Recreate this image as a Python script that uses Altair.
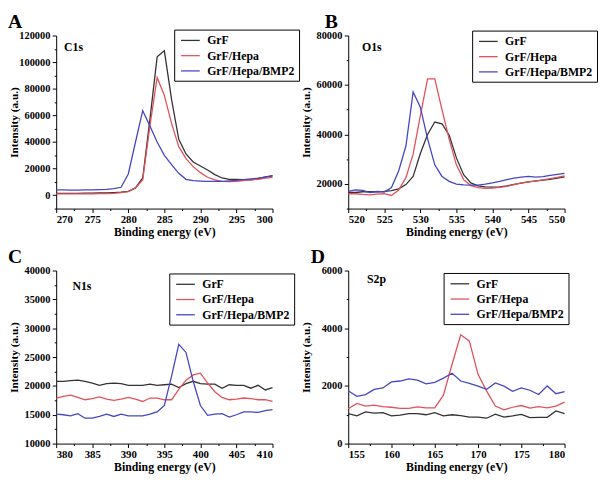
import altair as alt
import pandas as pd

SERIF = "Liberation Serif, Times New Roman, DejaVu Serif, serif"
SAMPLES = ["GrF", "GrF/Hepa", "GrF/Hepa/BMP2"]
COLORS = ["#333333", "#e2525c", "#4646c4"]

# ---------------- Panel A : C1s ----------------
C1S_ENERGY = list(range(270, 301))
C1S_GRF = [1500, 1500, 1500, 1500, 1600, 1600, 1700, 1800, 2000, 2300, 3000,
           5500, 13000, 57000, 104000, 108500, 72000, 42000, 31000, 25000, 22000,
           19000, 15500, 13000, 12000, 12000, 11800, 11500, 12500, 13800, 14500]
C1S_HEPA = [1000, 1000, 1000, 1000, 1100, 1100, 1200, 1300, 1500, 2000, 2800,
            5500, 11500, 52000, 88500, 75000, 54000, 36500, 27500, 21500, 17000,
            13500, 11500, 10500, 10300, 10500, 11000, 11500, 12000, 12800, 13500]
C1S_BMP2 = [4000, 4000, 3800, 3800, 4000, 4000, 4200, 4500, 5000, 6000, 16000,
            40000, 63500, 52000, 40000, 30000, 23000, 16500, 12000, 11000, 10700,
            10500, 10500, 10500, 10800, 11200, 11800, 12300, 12800, 13600, 14800]
C1S_XTICKS = [270, 275, 280, 285, 290, 295, 300]
C1S_YTICKS = [0, 20000, 40000, 60000, 80000, 100000, 120000]

# ---------------- Panel B : O1s ----------------
O1S_ENERGY = list(range(520, 551))
O1S_GRF = [16500, 16500, 16800, 16800, 16800, 17000, 17300, 18000, 19700, 23000,
           32300, 40000, 45000, 44300, 39600, 30500, 23700, 20400, 19200, 18800,
           18700, 18800, 19200, 19800, 20300, 20800, 21200, 21500, 21800, 22300, 22800]
O1S_HEPA = [16000, 16000, 15700, 15500, 15800, 16000, 15300, 17500, 22500, 32000,
            47600, 62500, 62500, 50000, 38000, 27700, 21700, 19300, 18500, 18200,
            18300, 18600, 19000, 19700, 20400, 20800, 21100, 21600, 22100, 22600, 23200]
O1S_BMP2 = [17000, 17600, 17400, 16500, 16900, 16700, 18500, 25300, 35300, 57200,
            51000, 38300, 27700, 23000, 21000, 19900, 19600, 19500, 19500, 19900,
            20400, 21000, 21700, 22300, 22700, 23000, 22700, 22900, 23400, 23800, 24200]
O1S_XTICKS = [520, 525, 530, 535, 540, 545, 550]
O1S_YTICKS = [20000, 40000, 60000, 80000]

# ---------------- Panel C : N1s ----------------
N1S_ENERGY = list(range(380, 411))
N1S_GRF = [20800, 20800, 20900, 21000, 20800, 20500, 20100, 20400, 20500, 20400,
           20100, 20100, 20100, 20300, 20100, 20200, 20300, 19700, 20400, 20800,
           20400, 20300, 20300, 19600, 20200, 20100, 20100, 19600, 20100, 19300, 19700]
N1S_HEPA = [17900, 18200, 18400, 18000, 17600, 17800, 18100, 17700, 17500, 17700,
            18000, 17700, 17300, 17900, 17900, 17600, 17600, 19400, 21000, 21900,
            22200, 20500, 19000, 18000, 17600, 17700, 17900, 17800, 17600, 17600, 17300]
N1S_BMP2 = [15100, 15000, 14800, 15200, 14400, 14400, 14700, 15100, 14700, 15100,
            14800, 14800, 14800, 15100, 15500, 16600, 21700, 27200, 25800, 20800,
            16600, 14900, 15100, 15200, 14600, 15000, 15500, 15500, 15400, 15700, 15900]
N1S_XTICKS = [380, 385, 390, 395, 400, 405, 410]
N1S_YTICKS = [10000, 15000, 20000, 25000, 30000, 35000, 40000]

# ---------------- Panel D : S2p ----------------
S2P_ENERGY = list(range(155, 181))
S2P_GRF = [1040, 960, 1100, 1060, 1070, 960, 990, 1040, 1040, 1000, 1070, 960, 1000,
           970, 920, 920, 880, 1020, 920, 960, 1010, 900, 910, 910, 1130, 1040]
S2P_HEPA = [1210, 1390, 1300, 1330, 1280, 1260, 1220, 1220, 1270, 1240, 1240, 1680, 2750,
            3770, 3550, 2400, 1820, 1300, 1170, 1260, 1320, 1230, 1280, 1240, 1300, 1440]
S2P_BMP2 = [1830, 1640, 1700, 1880, 1930, 2140, 2170, 2240, 2200, 2070, 2120, 2270, 2440,
            2170, 2090, 1990, 1880, 2100, 1990, 1810, 1930, 1850, 1700, 2000, 1730, 1800]
S2P_XTICKS = [155, 160, 165, 170, 175, 180]
S2P_YTICKS = [0, 2000, 4000, 6000]

PANELS = [
    dict(letter="A", element="C1s", energy=C1S_ENERGY,
         series=[C1S_GRF, C1S_HEPA, C1S_BMP2], xticks=C1S_XTICKS, yticks=C1S_YTICKS,
         xdom=[270, 300], ydom=[-10000, 120000],
         legend_xy=(120, -6), elem_xy=(8, 15.5), letter_xy=(-49, -23.5)),
    dict(letter="B", element="O1s", energy=O1S_ENERGY,
         series=[O1S_GRF, O1S_HEPA, O1S_BMP2], xticks=O1S_XTICKS, yticks=O1S_YTICKS,
         xdom=[520, 550], ydom=[10000, 80000],
         legend_xy=(126, -5), elem_xy=(14, 15.5), letter_xy=(-24, -23.5)),
    dict(letter="C", element="N1s", energy=N1S_ENERGY,
         series=[N1S_GRF, N1S_HEPA, N1S_BMP2], xticks=N1S_XTICKS, yticks=N1S_YTICKS,
         xdom=[380, 410], ydom=[10000, 40000],
         legend_xy=(115, 3), elem_xy=(16.5, 20), letter_xy=(-49, -24)),
    dict(letter="D", element="S2p", energy=S2P_ENERGY,
         series=[S2P_GRF, S2P_HEPA, S2P_BMP2], xticks=S2P_XTICKS, yticks=S2P_YTICKS,
         xdom=[155, 180], ydom=[0, 6000],
         legend_xy=(97, 2.5), elem_xy=(19, 12.5), letter_xy=(-38, -24)),
]

W, H = 220, 176


def with_minor(ticks, lo, hi):
    step = ticks[1] - ticks[0]
    vals = set(ticks)
    for t in ticks:
        for m in (t - step / 2, t + step / 2):
            if lo <= m <= hi:
                vals.add(m)
    return sorted(vals), step


def make_panel(p):
    rows = []
    for name, vals in zip(SAMPLES, p["series"]):
        for e, v in zip(p["energy"], vals):
            rows.append({"energy": e, "intensity": v, "sample": name})
    df = pd.DataFrame(rows)

    xvals, xstep = with_minor(p["xticks"], *p["xdom"])
    yvals, ystep = with_minor(p["yticks"], *p["ydom"])

    x_axis = alt.Axis(
        values=xvals, format="d", labelOverlap=False,
        labelExpr=f"datum.value % {xstep} === 0 ? datum.label : ''",
        tickSize={"condition": {"test": f"datum.value % {xstep} === 0", "value": 4}, "value": 2},
        title="Binding energy (eV)", labelPadding=1.5, titlePadding=2,
    )
    y_axis = alt.Axis(
        values=yvals, format="d", labelOverlap=False,
        labelExpr=f"datum.value % {ystep} === 0 ? datum.label : ''",
        tickSize={"condition": {"test": f"datum.value % {ystep} === 0", "value": 4}, "value": 2},
        title="Intensity (a.u.)", labelPadding=2.5,
        titleX=-42, titleY=H / 2, titleBaseline="middle", titleAngle=270,
    )
    lx, ly = p["legend_xy"]
    legend = alt.Legend(
        title=None, orient="none", legendX=lx, legendY=ly,
        symbolType="M-1.583,0H1.583", symbolSize=144, symbolStrokeWidth=1.3,
        symbolOffset=5.5, labelOffset=10, padding=4, rowPadding=2.5,
        labelFont=SERIF, labelFontWeight="bold", labelFontSize=12, labelColor="black",
        strokeColor="black", fillColor="white", labelLimit=0,
    )
    lines = alt.Chart(df).mark_line(strokeWidth=1.3).encode(
        x=alt.X("energy:Q", scale=alt.Scale(domain=p["xdom"], nice=False, zero=False), axis=x_axis),
        y=alt.Y("intensity:Q", scale=alt.Scale(domain=p["ydom"], nice=False, zero=False), axis=y_axis),
        color=alt.Color("sample:N", sort=SAMPLES,
                        scale=alt.Scale(domain=SAMPLES, range=COLORS), legend=legend),
    )
    ex, ey = p["elem_xy"]
    elem = alt.Chart(pd.DataFrame({"t": [p["element"]]})).mark_text(
        font=SERIF, fontWeight="bold", fontSize=12, align="left",
        baseline="alphabetic", color="black",
    ).encode(x=alt.value(ex), y=alt.value(ey), text="t:N")
    tx, ty = p["letter_xy"]
    letter = alt.Chart(pd.DataFrame({"t": [p["letter"]]})).mark_text(
        font=SERIF, fontWeight="bold", fontSize=20, align="left",
        baseline="top", color="black",
    ).encode(x=alt.value(tx), y=alt.value(ty), text="t:N")
    return alt.layer(lines, elem, letter).properties(width=W, height=H)


chart = alt.concat(
    *[make_panel(p) for p in PANELS],
    columns=2, spacing={"row": 63, "column": 77}, bounds="flush",
).resolve_scale(color="independent").properties(padding=0).configure_view(
    stroke=None
).configure_axis(
    labelFont=SERIF, titleFont=SERIF, labelFontWeight="bold", titleFontWeight="bold",
    labelColor="black", titleColor="black", domainColor="black", tickColor="black",
    grid=False, domainWidth=1, tickWidth=1,
).configure_axisX(labelFontSize=11, titleFontSize=12).configure_axisY(
    labelFontSize=10.5, titleFontSize=11.5
)

chart.save("out.html", embed_options={"renderer": "svg", "actions": False})
